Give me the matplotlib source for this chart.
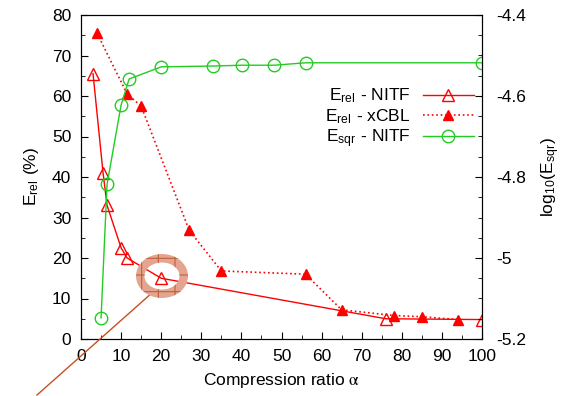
import matplotlib
matplotlib.use("Agg")
import matplotlib.pyplot as plt
from matplotlib.patches import Annulus
from matplotlib.lines import Line2D
from matplotlib.ticker import MultipleLocator, FuncFormatter

plt.rcParams['font.family'] = ['Liberation Sans', 'DejaVu Sans']
plt.rcParams['mathtext.fontset'] = 'stix'
plt.rcParams['axes.unicode_minus'] = False
plt.rcParams['hatch.linewidth'] = 0.8

# Data
x_nitf = [3, 5.5, 6.5, 10, 11.5, 20, 76, 100]
erel_nitf = [65.5, 41, 33, 22.5, 20, 15, 5, 4.8]

x_xcbl = [4, 11.5, 15, 27, 35, 56, 65, 78, 85, 94]
erel_xcbl = [75.5, 60.5, 57.5, 26.8, 16.8, 16, 7.2, 5.8, 5.5, 4.8]

x_sqr = [5, 6.5, 10, 12, 20, 32.8, 40.2, 48.2, 56, 100]
esqr_nitf = [-5.148, -4.818, -4.622, -4.558, -4.528, -4.526, -4.524, -4.524, -4.518, -4.518]

labels = ['E$_\\mathregular{rel}$ - NITF', 'E$_\\mathregular{rel}$ - xCBL', 'E$_\\mathregular{sqr}$ - NITF']

W, H = 565, 396
fig = plt.figure(figsize=(W / 100, H / 100), dpi=100)
ax = fig.add_axes([81 / W, (H - 339) / H, (482 - 81) / W, (339 - 15) / H])
ax2 = ax.twinx()

red = '#ff0000'
green = '#22cc22'

l1, = ax.plot(x_nitf, erel_nitf, '-', color=red, lw=1.0, marker='^', ms=8,
              mfc='none', mec=red, mew=1.0)
l2, = ax.plot(x_xcbl, erel_xcbl, ':', color=red, lw=1.2, marker='^', ms=7,
              mfc=red, mec=red)
l3, = ax2.plot(x_sqr, esqr_nitf, '-', color=green, lw=1.0, marker='o', ms=9,
               mfc='none', mec=green, mew=1.0)

ax.set_xlim(0, 100)
ax.set_ylim(0, 80)
ax2.set_ylim(-5.2, -4.4)

ax.xaxis.set_major_locator(MultipleLocator(10))
ax.xaxis.set_minor_locator(MultipleLocator(5))
ax.yaxis.set_major_locator(MultipleLocator(10))
ax.yaxis.set_minor_locator(MultipleLocator(5))
ax2.yaxis.set_major_locator(MultipleLocator(0.2))
ax2.yaxis.set_minor_locator(MultipleLocator(0.05))
ax2.yaxis.set_major_formatter(FuncFormatter(lambda v, p: '%g' % round(v, 3)))

for a in (ax, ax2):
    a.tick_params(which='both', direction='in', labelsize=12.5, colors='black')
    a.tick_params(which='major', length=5)
    a.tick_params(which='minor', length=3)
ax.tick_params(axis='x', pad=7)
ax.tick_params(axis='y', pad=7)
ax2.tick_params(axis='y', pad=10)

ax.set_xlabel('Compression ratio $\\mathrm{\\alpha}$', fontsize=12.5, labelpad=5)
ax.set_ylabel('E$_\\mathregular{rel}$ (%)', fontsize=12.5, labelpad=8)
ax2.set_ylabel('log$_\\mathregular{10}$(E$_\\mathregular{sqr}$)', fontsize=12.5, labelpad=10)

ax2.legend([l1, l2, l3], labels, loc='upper right', frameon=False,
           markerfirst=False, fontsize=12.5, handlelength=2.95,
           handletextpad=0.7, labelspacing=0.1, borderpad=0, borderaxespad=0,
           bbox_to_anchor=(474 / W, (H - 87) / H), bbox_transform=fig.transFigure)

# Annotation: hatched ring and pointer line (figure inches)
ring = Annulus((1.62, (H - 276) / 100), (0.26, 0.22), 0.085,
               transform=fig.dpi_scale_trans, facecolor='#e4a590',
               edgecolor='#c0603c', hatch='+', lw=0, zorder=10)
fig.add_artist(ring)
fig.add_artist(Line2D([0.37, 1.53], [(H - 395) / 100, (H - 292) / 100],
                      transform=fig.dpi_scale_trans, color='#c85020', lw=1.0))

fig.savefig('out.png', dpi=100)
